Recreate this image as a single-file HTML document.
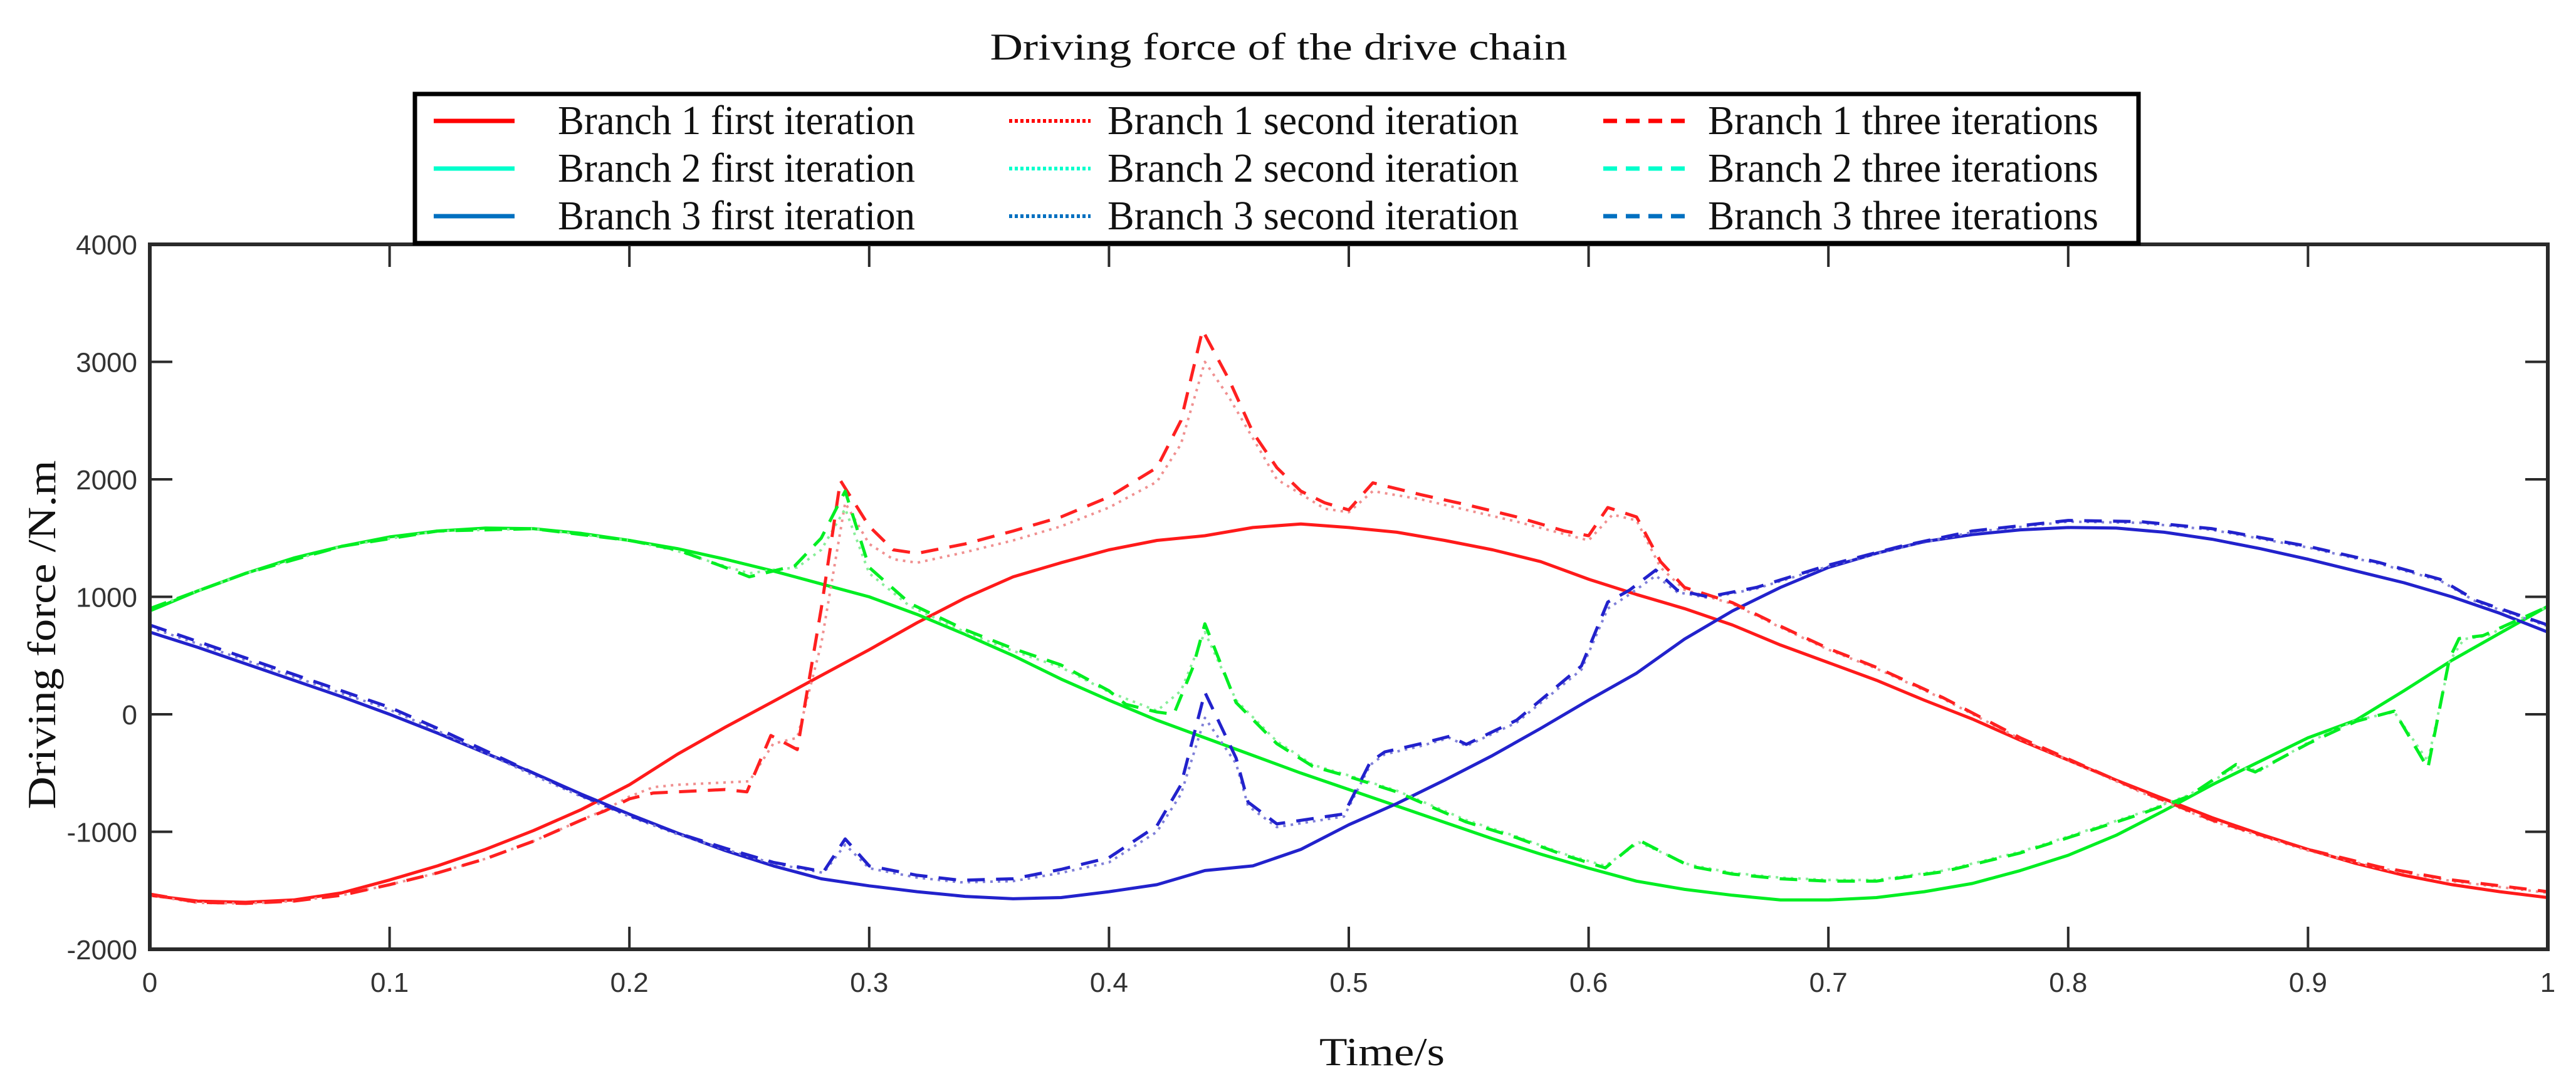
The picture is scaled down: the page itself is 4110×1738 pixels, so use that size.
<!DOCTYPE html>
<html><head><meta charset="utf-8"><style>
html,body{margin:0;padding:0;background:#fff;}
svg{display:block;}
</style></head><body>
<svg id="chart" width="4110" height="1738" viewBox="0 0 4110 1738" xmlns="http://www.w3.org/2000/svg">
<rect x="0" y="0" width="4110" height="1738" fill="#fff"/>
<text x="2040" y="95" font-family="Liberation Serif, serif" font-size="60" text-anchor="middle" textLength="921" lengthAdjust="spacingAndGlyphs" fill="#111">Driving force of the drive chain</text>
<g id="plot"></g>
<g id="axes"></g>
<text transform="translate(88,1013) rotate(-90)" font-family="Liberation Serif, serif" font-size="64" text-anchor="middle" textLength="557" lengthAdjust="spacingAndGlyphs" fill="#111">Driving force /N.m</text>
<text x="2205" y="1700" font-family="Liberation Serif, serif" font-size="64" text-anchor="middle" textLength="200" lengthAdjust="spacingAndGlyphs" fill="#111">Time/s</text>
<g id="legend"></g>
</svg>
<script>
const xTicks = [0,0.1,0.2,0.3,0.4,0.5,0.6,0.7,0.8,0.9,1];
const xTickLabels = ["0","0.1","0.2","0.3","0.4","0.5","0.6","0.7","0.8","0.9","1"];
const yTicks = [-2000,-1000,0,1000,2000,3000,4000];
const yTickLabels = ["-2000","-1000","0","1000","2000","3000","4000"];

const tSolid = [0,.02,.04,.06,.08,.10,.12,.14,.16,.18,.20,.22,.24,.26,.28,.30,.32,.34,.36,.38,.40,.42,.44,.46,.48,.50,.52,.54,.56,.58,.60,.62,.64,.66,.68,.70,.72,.74,.76,.78,.80,.82,.84,.86,.88,.90,.92,.94,.96,.98,1.0];
const b1First = [-1540,-1590,-1600,-1580,-1520,-1410,-1290,-1150,-990,-810,-600,-340,-110,110,330,550,780,990,1170,1290,1400,1480,1520,1590,1620,1590,1550,1480,1400,1300,1150,1020,900,760,590,440,290,120,-40,-220,-390,-560,-720,-880,-1020,-1150,-1270,-1370,-1450,-1510,-1560];
const b2First = [880,1050,1200,1330,1430,1510,1560,1585,1580,1540,1480,1410,1320,1220,1110,1000,850,680,500,300,120,-50,-200,-350,-500,-640,-780,-920,-1060,-1190,-1310,-1420,-1490,-1540,-1580,-1580,-1560,-1510,-1440,-1330,-1200,-1030,-820,-600,-400,-200,-50,200,460,690,920];
const b3First = [700,570,430,290,150,0,-160,-330,-500,-680,-850,-1010,-1160,-1290,-1400,-1460,-1510,-1550,-1570,-1560,-1510,-1450,-1330,-1290,-1150,-940,-760,-560,-350,-120,120,350,640,880,1080,1250,1370,1470,1530,1570,1590,1585,1550,1490,1410,1320,1220,1120,1000,860,700];

const tB1Third = [0,.02,.04,.06,.08,.10,.12,.14,.16,.18,.19,.20,.21,.22,.23,.24,.249,.259,.27,.28,.288,.30,.31,.32,.34,.36,.38,.40,.42,.43,.439,.45,.46,.47,.48,.49,.50,.51,.53,.55,.57,.59,.60,.608,.62,.63,.64,.66,.68,.70,.72,.748,.78,.80,.83,.86,.90,.93,.96,1.0];
const b1Third = [-1530,-1600,-1610,-1590,-1540,-1450,-1350,-1230,-1080,-900,-820,-720,-670,-660,-650,-640,-660,-180,-300,900,1990,1600,1400,1370,1450,1560,1680,1850,2100,2500,3270,2850,2400,2100,1900,1800,1740,1970,1870,1780,1680,1560,1520,1760,1680,1300,1080,950,750,560,400,140,-200,-380,-650,-900,-1150,-1300,-1410,-1510];
const tB1Second = [0,.02,.04,.06,.08,.10,.12,.14,.16,.18,.19,.20,.21,.22,.23,.24,.25,.26,.27,.28,.29,.30,.31,.32,.34,.36,.38,.40,.42,.43,.44,.45,.47,.49,.50,.51,.53,.57,.60,.61,.62,.63,.64,.66,.68,.70,.72,.748,.78,.80,.83,.86,.90,.93,.96,1.0];
const b1Second = [-1540,-1605,-1610,-1590,-1540,-1450,-1350,-1230,-1080,-900,-810,-700,-620,-600,-590,-580,-570,-250,-200,600,1800,1450,1320,1290,1380,1480,1600,1760,1980,2300,3000,2700,2000,1750,1720,1900,1830,1640,1480,1700,1650,1250,1060,940,740,550,390,130,-210,-390,-660,-910,-1160,-1310,-1420,-1520];

const tB2Third = [0,.04,.08,.12,.16,.20,.22,.24,.25,.26,.269,.28,.29,.30,.317,.34,.36,.38,.40,.407,.42,.427,.435,.44,.453,.47,.485,.50,.52,.549,.57,.59,.607,.621,.642,.66,.68,.70,.72,.748,.78,.80,.83,.85,.87,.878,.90,.92,.936,.95,.959,.963,.973,.985,1.0];
const b2Third = [900,1200,1430,1560,1580,1480,1400,1250,1170,1220,1264,1500,1900,1250,944,720,560,420,200,85,20,0,400,770,100,-250,-443,-530,-660,-917,-1050,-1200,-1307,-1072,-1291,-1360,-1400,-1420,-1420,-1339,-1180,-1050,-850,-700,-427,-491,-250,-60,27,-459,475,645,670,780,917];
const tB2Second = [0,.04,.08,.12,.16,.20,.22,.24,.25,.26,.27,.28,.29,.30,.317,.34,.36,.38,.40,.42,.43,.44,.453,.47,.485,.50,.52,.549,.57,.59,.607,.621,.642,.66,.68,.70,.72,.748,.78,.80,.83,.85,.87,.88,.90,.92,.936,.95,.959,.965,.975,.985,1.0];
const b2Second = [900,1200,1430,1560,1580,1480,1390,1260,1200,1230,1250,1400,1750,1200,920,700,540,400,190,30,200,700,120,-230,-430,-520,-650,-900,-1040,-1190,-1290,-1090,-1280,-1350,-1390,-1410,-1410,-1330,-1170,-1040,-840,-690,-450,-480,-240,-50,20,-400,450,640,670,780,917];

const tB3Third = [0,.02,.04,.06,.08,.10,.12,.14,.16,.18,.20,.22,.24,.26,.281,.29,.30,.32,.338,.36,.38,.40,.42,.43,.44,.453,.458,.47,.498,.509,.515,.53,.542,.549,.57,.597,.608,.617,.628,.637,.65,.67,.70,.73,.76,.80,.83,.86,.90,.93,.955,.97,1.0];
const b3Third = [760,620,480,340,200,60,-120,-310,-500,-690,-860,-1010,-1140,-1260,-1339,-1061,-1290,-1370,-1413,-1400,-1320,-1220,-949,-600,187,-373,-747,-933,-848,-405,-320,-250,-187,-256,-50,411,955,1056,1227,1056,1000,1080,1270,1430,1560,1650,1640,1580,1430,1290,1150,970,760];
const tB3Second = [0,.02,.04,.06,.08,.10,.12,.14,.16,.18,.20,.22,.24,.26,.281,.29,.30,.32,.338,.36,.38,.40,.42,.43,.44,.453,.458,.47,.498,.509,.515,.53,.542,.549,.57,.597,.608,.617,.628,.637,.65,.67,.70,.73,.76,.80,.83,.86,.90,.93,.955,.97,1.0];
const b3Second = [740,600,460,320,180,40,-140,-330,-520,-700,-870,-1020,-1150,-1270,-1350,-1110,-1310,-1390,-1430,-1420,-1350,-1260,-1000,-680,-30,-420,-780,-960,-870,-430,-340,-270,-200,-270,-70,380,900,1020,1180,1040,990,1070,1260,1420,1550,1640,1630,1570,1420,1280,1140,960,750];

const seriesNames = ["Branch 1 first iteration","Branch 1 second iteration","Branch 1 three iterations","Branch 2 first iteration","Branch 2 second iteration","Branch 2 three iterations","Branch 3 first iteration","Branch 3 second iteration","Branch 3 three iterations"];

const NS = "http://www.w3.org/2000/svg";
const X0 = 239, X1 = 4065, Y0 = 1515, Y1 = 390;
function xs(t){ return X0 + (t - 0) / (1 - 0) * (X1 - X0); }
function ys(v){ return Y0 - (v - (-2000)) / (4000 - (-2000)) * (Y0 - Y1); }
function mk(tag, attrs, parent){ const e = document.createElementNS(NS, tag); for (const k in attrs) e.setAttribute(k, attrs[k]); parent.appendChild(e); return e; }

const plot = document.getElementById('plot');
const axes = document.getElementById('axes');
const legend = document.getElementById('legend');

const defs = mk('defs', {}, plot);
const cp = mk('clipPath', {id:'clip'}, defs);
mk('rect', {x:X0, y:Y1, width:X1-X0, height:Y0-Y1}, cp);
const lines = mk('g', {'clip-path':'url(#clip)'}, plot);

function drawSeries(ts, vs, color, width, dash, name){
  let d = '';
  for (let i = 0; i < ts.length; i++) d += (i ? 'L' : 'M') + xs(ts[i]).toFixed(1) + ',' + ys(vs[i]).toFixed(1);
  const p = mk('path', {d:d, fill:'none', stroke:color, 'stroke-width':width, 'stroke-linejoin':'round'}, lines);
  if (dash) p.setAttribute('stroke-dasharray', dash);
  
  
}
drawSeries(tSolid, b1First, '#ff1a1a', 5, null, 'series-branch1-first');
drawSeries(tSolid, b2First, '#00ee22', 5, null, 'series-branch2-first');
drawSeries(tSolid, b3First, '#2222cc', 5, null, 'series-branch3-first');
drawSeries(tB1Second, b1Second, '#f09090', 4, '4 8', 'series-branch1-second');
drawSeries(tB2Second, b2Second, '#88ee99', 4, '4 8', 'series-branch2-second');
drawSeries(tB3Second, b3Second, '#8080d8', 4, '4 8', 'series-branch3-second');
drawSeries(tB1Third, b1Third, '#ff2020', 5, '28 18', 'series-branch1-third');
drawSeries(tB2Third, b2Third, '#00ee22', 5, '28 18', 'series-branch2-third');
drawSeries(tB3Third, b3Third, '#2222cc', 5, '28 18', 'series-branch3-third');

const frame = mk('rect', {x:X0, y:Y1, width:X1-X0, height:Y0-Y1, fill:'none', stroke:'#2a2a2a', 'stroke-width':6}, axes);



for (let i = 0; i < xTicks.length; i++){
  const x = xs(xTicks[i]);
  const t1 = mk('line', {x1:x, y1:Y0, x2:x, y2:Y0-36, stroke:'#2a2a2a', 'stroke-width':4}, axes);
  
  
  const t2 = mk('line', {x1:x, y1:Y1, x2:x, y2:Y1+36, stroke:'#2a2a2a', 'stroke-width':4}, axes);
  
  
  const lb = mk('text', {x:x, y:1583, 'font-family':'Liberation Sans, sans-serif', 'font-size':44, 'text-anchor':'middle', fill:'#333'}, axes);
  lb.textContent = xTickLabels[i];
  
  
}
for (let i = 0; i < yTicks.length; i++){
  const y = ys(yTicks[i]);
  const t1 = mk('line', {x1:X0, y1:y, x2:X0+36, y2:y, stroke:'#2a2a2a', 'stroke-width':4}, axes);
  
  
  const t2 = mk('line', {x1:X1, y1:y, x2:X1-36, y2:y, stroke:'#2a2a2a', 'stroke-width':4}, axes);
  
  
  const lb = mk('text', {x:219, y:y+16, 'font-family':'Liberation Sans, sans-serif', 'font-size':44, 'text-anchor':'end', fill:'#333'}, axes);
  lb.textContent = yTickLabels[i];
  
  
}

const lbox = mk('rect', {x:662, y:150, width:2750, height:238, fill:'#fff', stroke:'#000', 'stroke-width':7}, legend);


const legColors = ['#ff0000','#00ffcc','#0070c0'];
const rowY = [193, 269, 345];
const colLine = [[692,821],[1610,1740],[2558,2690]];
const colText = [[890,570],[1767,656],[2725,623]];
const colDash = [null,'5 4','22 14'];
for (let c = 0; c < 3; c++){
  for (let r = 0; r < 3; r++){
    const g = mk('g', {}, legend);
    
    
    const ln = mk('line', {x1:colLine[c][0], y1:rowY[r], x2:colLine[c][1], y2:rowY[r], stroke:legColors[r], 'stroke-width':c===1?6:7}, g);
    if (colDash[c]) ln.setAttribute('stroke-dasharray', colDash[c]);
    
    
    const tx = mk('text', {x:colText[c][0], y:rowY[r]+21, 'font-family':'Liberation Serif, serif', 'font-size':66, textLength:colText[c][1], lengthAdjust:'spacingAndGlyphs', fill:'#111'}, g);
    tx.textContent = seriesNames[r*3 + c];
    
    
  }
}
</script>
</body></html>
